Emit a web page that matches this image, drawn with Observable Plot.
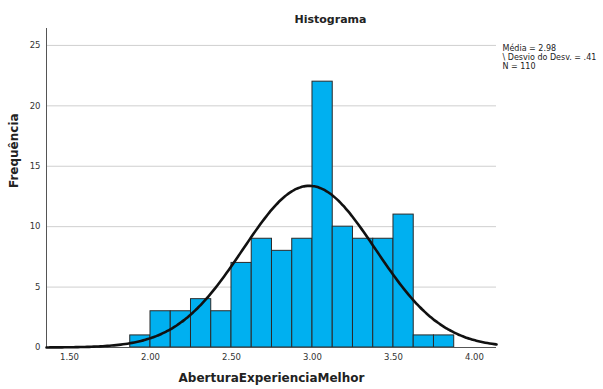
<!DOCTYPE html>
<html>
<head>
<meta charset="utf-8">
<script src="https://cdn.jsdelivr.net/npm/d3@7"></script>
<script src="https://cdn.jsdelivr.net/npm/@observablehq/plot@0.6"></script>
<style>
  html, body { margin: 0; padding: 0; background: #fff; }
  svg { display: block; }
</style>
</head>
<body>
<div id="chart"></div>
<script>
// Histogram bins (lower edges) and counts
const binStarts = [1.875, 2.0, 2.125, 2.25, 2.375, 2.5, 2.625, 2.75, 2.875, 3.0, 3.125, 3.25, 3.375, 3.5, 3.625, 3.75];
const counts    = [1, 3, 3, 4, 3, 7, 9, 8, 9, 22, 10, 9, 9, 11, 1, 1];
const binWidth = 0.125;

// Summary statistics shown in the legend
const mean = 2.98;
const sd = 0.41;
const n = 110;
const legendLines = ["Média = 2.98", "\\ Desvio do Desv. = .41", "N = 110"];

const xTicks = [1.5, 2.0, 2.5, 3.0, 3.5, 4.0];
const yTicks = [0, 5, 10, 15, 20, 25];

const title = "Histograma";
const xLabel = "AberturaExperienciaMelhor";
const yLabel = "Frequência";

const xDomain = [1.358, 4.136];
const yDomain = [0, 26.4];

const bars = binStarts.map((s, i) => ({x1: s, x2: s + binWidth, y: counts[i]}));

// Fitted normal curve (scaled to counts) from the stated mean, sd and N
const curve = d3.range(0, 201).map(i => {
  const x = xDomain[0] + (xDomain[1] - xDomain[0]) * i / 200;
  const z = (x - mean) / sd;
  return {x, y: n * binWidth * Math.exp(-0.5 * z * z) / (sd * Math.sqrt(2 * Math.PI))};
});

const font = "DejaVu Sans, sans-serif";

const chart = Plot.plot({
  width: 603,
  height: 389,
  marginLeft: 46,
  marginRight: 107,
  marginTop: 28,
  marginBottom: 42,
  style: {fontFamily: font, background: "#fff"},
  x: {domain: xDomain},
  y: {domain: yDomain},
  marks: [
    Plot.gridY(yTicks.filter(d => d > 0), {stroke: "#cfcfcf", strokeOpacity: 1, strokeWidth: 1}),
    Plot.axisY(yTicks, {tickSize: 0, tickPadding: 6, fontSize: 8.5, fill: "#333", label: null}),
    Plot.axisX(xTicks, {tickSize: 0, tickPadding: 6, fontSize: 8.5, fill: "#333", label: null, tickFormat: d3.format(".2f")}),
    Plot.rectY(bars, {x1: "x1", x2: "x2", y: "y", fill: "#00b0f0", stroke: "#2a2a2a", strokeWidth: 1, inset: 0}),
    Plot.ruleY([0], {stroke: "#555", strokeWidth: 1}),
    Plot.ruleX([xDomain[0]], {stroke: "#555", strokeWidth: 1}),
    Plot.line(curve, {x: "x", y: "y", stroke: "#111", strokeWidth: 2.6, curve: "basis"}),
    Plot.text([title], {frameAnchor: "top-left", dx: 284, dy: -9, lineAnchor: "middle", textAnchor: "middle", fontSize: 11, fontWeight: "bold", fill: "#222"}),
    Plot.text([xLabel], {frameAnchor: "bottom", dy: 31, lineAnchor: "middle", fontSize: 12, fontWeight: "bold", fill: "#222"}),
    Plot.text([yLabel], {frameAnchor: "left", dx: -32, rotate: -90, lineAnchor: "middle", fontSize: 12, fontWeight: "bold", fill: "#222"}),
    ...legendLines.map((t, i) => Plot.text([t], {frameAnchor: "top-right", dx: 6, dy: 20 + i * 9, textAnchor: "start", lineAnchor: "middle", fontSize: 8, fill: "#222"}))
  ]
});

document.getElementById("chart").appendChild(chart);
</script>
</body>
</html>
